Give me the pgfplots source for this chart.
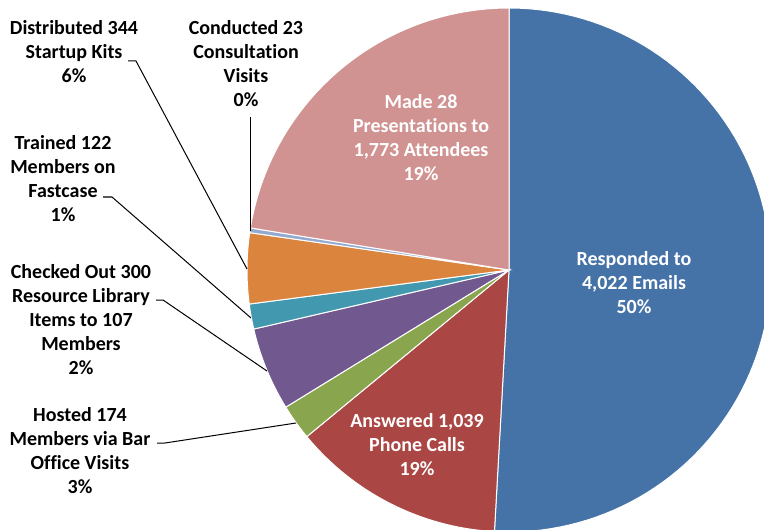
\documentclass[border=0pt]{standalone}
\usepackage{pgfplots}
\pgfplotsset{compat=1.18}
\usepackage{pgfplotstable}
\usepackage{fontspec}
\setmainfont{Carlito}[Ligatures=NoCommon]
\definecolor{c0}{HTML}{4572A7}
\definecolor{c1}{HTML}{AA4643}
\definecolor{c2}{HTML}{89A54E}
\definecolor{c3}{HTML}{71588F}
\definecolor{c4}{HTML}{4198AF}
\definecolor{c5}{HTML}{DB843D}
\definecolor{c6}{HTML}{93A9CF}
\definecolor{c7}{HTML}{D19392}
\pgfplotstableread{
value
4022
1039
174
407
122
344
23
1773
}\piedata
\begin{document}
\begin{tikzpicture}
\def\tot{0}
\pgfplotsforeachungrouped \i in {0,...,7}{%
  \pgfplotstablegetelem{\i}{value}\of\piedata
  \pgfmathsetmacro{\tot}{\tot+\pgfplotsretval}%
}
\def\cum{0}
\pgfplotsforeachungrouped \i in {0,...,7}{%
  \pgfplotstablegetelem{\i}{value}\of\piedata
  \pgfmathsetmacro{\angA}{90-(\cum/\tot)*360}%
  \pgfmathsetmacro{\cum}{\cum+\pgfplotsretval}%
  \pgfmathsetmacro{\angB}{90-(\cum/\tot)*360}%
  \expandafter\xdef\csname sA\i\endcsname{\angA}%
  \expandafter\xdef\csname sB\i\endcsname{\angB}%
}
\begin{axis}[at={(254.5pt,-135pt)}, anchor=center, width=262pt, height=262pt,
  scale only axis, xmin=-1, xmax=1, ymin=-1, ymax=1, hide axis, clip=false]
\pgfplotsinvokeforeach{0,...,7}{
  \addplot[draw=white, line width=0.5pt, fill=c#1,
    domain=\csname sB#1\endcsname:\csname sA#1\endcsname,
    samples=90, variable=\t] ({cos(\t)},{sin(\t)}) -- (axis cs:0,0) -- cycle;
}
\end{axis}
\begin{scope}[x=0.5pt,y=-0.5pt, every node/.style={align=center, font=\bfseries\fontsize{10}{12}\selectfont, inner sep=0pt}]
\node[text=white] at (634,283) {Responded to\\4,022 Emails\\50\%};
\node[text=white] at (417,445) {Answered 1,039\\Phone Calls\\19\%};
\node[text=white] at (421,138) {Made 28\\Presentations to\\1,773 Attendees\\19\%};
\node at (74,52) {Distributed 344\\Startup Kits\\6\%};
\node at (246,64) {Conducted 23\\Consultation\\Visits\\0\%};
\node at (63,179) {Trained 122\\Members on\\Fastcase\\1\%};
\node at (81,320) {Checked Out 300\\Resource Library\\Items to 107\\Members\\2\%};
\node at (80,451) {Hosted 174\\Members via Bar\\Office Visits\\3\%};
\draw[line width=0.5pt] (128,61) -- (136,61) -- (247,269);
\draw[line width=0.5pt] (250,117) -- (250,231);
\draw[line width=0.5pt] (103,197) -- (112,197) -- (251,318);
\draw[line width=0.5pt] (156,300) -- (163,300) -- (267,371);
\draw[line width=0.5pt] (157,443) -- (165,443) -- (296,423);
\end{scope}
\pgfresetboundingbox
\useasboundingbox (0,0) rectangle (382pt,-264.5pt);
\end{tikzpicture}
\end{document}
